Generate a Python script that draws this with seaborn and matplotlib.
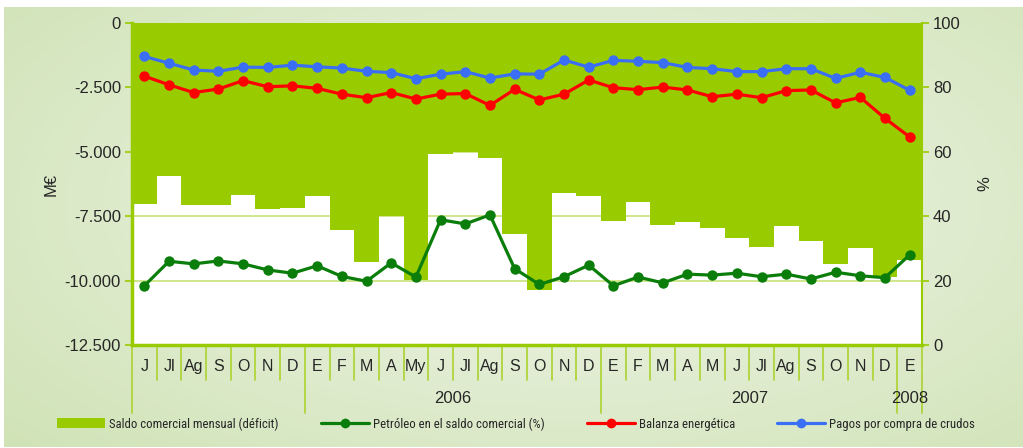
import numpy as np
import matplotlib
matplotlib.use("Agg")
import matplotlib.pyplot as plt
import matplotlib.transforms as mtransforms
from matplotlib import font_manager
from matplotlib.colors import LinearSegmentedColormap
from matplotlib.lines import Line2D
from matplotlib.patches import Patch
from matplotlib.ticker import FuncFormatter
import seaborn as sns


OUTPUT_PATH = "out.png"

# Month labels (jun 2005 - ene 2008)
MONTHS = [
    "J", "Jl", "Ag", "S", "O", "N", "D",
    "E", "F", "M", "A", "My", "J", "Jl", "Ag", "S", "O", "N", "D",
    "E", "F", "M", "A", "M", "J", "Jl", "Ag", "S", "O", "N", "D",
    "E",
]

YEARS = ["2006", "2007", "2008"]

# Saldo comercial mensual (deficit), M€
SALDO = [
    -7030, -5940, -7060, -7060, -6680, -7220, -7180,
    -6720, -8040, -9280, -7490, -9980, -5090, -5010, -5240, -8190, -10360, -6600, -6720,
    -7690, -6950, -7840, -7730, -7960, -8350, -8700, -7880, -8460, -9360, -8730, -9860,
    -9200,
]

# Petróleo en el saldo comercial (%)
PETROLEO = [
    18.4, 26.0, 25.2, 26.1, 25.2, 23.3, 22.3,
    24.6, 21.3, 19.8, 25.5, 21.1, 38.9, 37.6, 40.4, 23.7, 18.8, 21.2, 24.8,
    18.4, 21.1, 19.3, 22.0, 21.7, 22.3, 21.2, 22.0, 20.5, 22.6, 21.5, 20.9,
    28.0,
]

# Balanza energética (%)
BALANZA = [
    83.5, 80.8, 78.4, 79.5, 82.1, 80.2, 80.5,
    79.7, 77.9, 76.8, 78.4, 76.4, 77.9, 78.1, 74.4, 79.4, 76.1, 77.9, 82.3,
    79.9, 79.3, 80.1, 79.2, 77.1, 77.9, 76.8, 79.0, 79.2, 75.2, 76.9, 70.4,
    64.6,
]

# Pagos por compra de crudos (%)
CRUDOS = [
    89.6, 87.5, 85.4, 85.0, 86.3, 86.2, 86.9,
    86.4, 86.0, 85.0, 84.6, 82.7, 84.1, 84.9, 82.9, 84.2, 84.1, 88.5, 86.3,
    88.4, 88.1, 87.7, 86.2, 85.8, 84.9, 84.9, 85.8, 85.8, 82.8, 84.7, 83.1,
    79.1,
]

LEGEND_LABELS = [
    "Saldo comercial mensual (déficit)",
    "Petróleo en el saldo comercial (%)",
    "Balanza energética",
    "Pagos por compra de crudos",
]


GREEN = "#99cc00"
LINE_GREEN = "#0a7d0a"
RED = "#ff0000"
BLUE = "#3a6ef5"
SEP = "#b0d43c"
LABEL_FONT = ["Liberation Sans", "DejaVu Sans"]


def thousands(v, pos):
    return f"{v:,.0f}".replace(",", ".")


def narrow_font():
    # look for a condensed face, the legend uses a narrow typeface
    preferred = ["Liberation Sans Narrow", "Roboto Condensed", "Open Sans Condensed",
                 "Noto Sans Condensed", "DejaVu Sans"]
    found = []
    for f in font_manager.fontManager.ttflist:
        is_narrow = ("ondensed" in f.name or "Narrow" in f.name
                     or f.stretch in ("condensed", "semi-condensed", "extra-condensed")
                     or "Condensed" in f.fname or "Narrow" in f.fname)
        if is_narrow and f.style == "normal" and f.weight in (400, "normal", "regular"):
            found.append(f)
    for name in preferred:
        for f in found:
            if f.name == name:
                return font_manager.FontProperties(fname=f.fname)
    if found:
        return font_manager.FontProperties(fname=found[0].fname)
    return font_manager.FontProperties(family=LABEL_FONT)


def plot_saldo_comercial():

    sns.set_style("white")
    plt.rcParams["font.family"] = LABEL_FONT

    fig = plt.figure(figsize=(10.23, 4.48), dpi=100, facecolor="white")

    # Background gradient panel
    bg = fig.add_axes([4 / 1023, 1 / 448, 1019 / 1023, 440 / 448], zorder=-10)
    yy, xx = np.mgrid[0:1:200j, 0:1:400j]
    dist = np.sqrt(((xx - 0.55) / 0.8) ** 2 + ((yy - 0.55) / 0.9) ** 2)
    cmap = LinearSegmentedColormap.from_list("bg", ["#f2f7ec", "#e0ecd0", "#d0e3b6"])
    bg.imshow(dist, cmap=cmap, aspect="auto", extent=[0, 1, 0, 1], origin="lower")
    bg.set_axis_off()

    ax = fig.add_axes([132 / 1023, 103 / 448, 790 / 1023, 322 / 448])
    ax.set_facecolor("white")

    pos = np.arange(len(MONTHS))

    sns.barplot(
        x=pos,
        y=SALDO,
        native_scale=True,
        width=1.0,
        color=GREEN,
        saturation=1,
        linewidth=0,
        errorbar=None,
        ax=ax,
        zorder=2,
    )

    ax.set_xlim(-0.5, len(MONTHS) - 0.5)
    ax.set_ylim(-12500, 0)
    ax.set_yticks(np.arange(-12500, 1, 2500))
    ax.yaxis.set_major_formatter(FuncFormatter(thousands))
    ax.yaxis.grid(True, color="#c8e27a", linewidth=1.2)
    ax.set_axisbelow(True)

    ax.set_xticks(pos)
    ax.set_xticklabels(MONTHS, fontsize=11.5)
    ax.tick_params(axis="x", length=0, pad=10)
    ax.tick_params(axis="y", length=5, width=1.2, color=GREEN, labelsize=12, pad=3,
                   left=True)

    ax.set_ylabel("M€", fontsize=12)
    ax.yaxis.set_label_coords(-0.093, 0.5)

    for side in ["left", "bottom"]:
        ax.spines[side].set_color(GREEN)
        ax.spines[side].set_linewidth(2.5)
    ax.spines["top"].set_visible(False)
    ax.spines["right"].set_visible(False)

    # Right axis with the percentage series
    ax2 = ax.twinx()
    for values, color in [(CRUDOS, BLUE), (BALANZA, RED), (PETROLEO, LINE_GREEN)]:
        sns.lineplot(
            x=pos,
            y=values,
            color=color,
            linewidth=2.3,
            marker="o",
            markersize=7.5,
            markeredgewidth=0,
            ax=ax2,
            legend=False,
        )
    ax2.set_ylim(0, 100)
    ax2.set_yticks(np.arange(0, 101, 20))
    ax2.tick_params(axis="y", length=5, width=1.2, color=GREEN, labelsize=12, pad=3,
                    right=True)
    ax2.set_ylabel("%", fontsize=12)
    ax2.yaxis.set_label_coords(1.07, 0.5)
    ax2.spines["right"].set_color(GREEN)
    ax2.spines["right"].set_linewidth(1.5)
    for side in ["left", "top", "bottom"]:
        ax2.spines[side].set_visible(False)

    # Category separators and year groups
    trans = mtransforms.blended_transform_factory(ax.transData, ax.transAxes)
    long_edges = [-0.5, 6.5, 18.5, 30.5, 31.5]
    for edge in np.arange(-0.5, len(MONTHS), 1.0):
        bottom = -0.21 if edge in long_edges else -0.108
        ax.plot([edge, edge], [0, bottom], transform=trans, color=SEP,
                linewidth=1.3, clip_on=False, zorder=1)

    year_centers = [(6.5 + 18.5) / 2, (18.5 + 30.5) / 2, 31.0]
    for label, xc in zip(YEARS, year_centers):
        ax.text(xc, -0.165, label, transform=trans, ha="center", va="center",
                fontsize=12)

    # Legend: fit the narrow font so the first label is ~169 px wide
    prop = narrow_font()
    prop.set_size(10)
    probe = fig.text(0, 0, LEGEND_LABELS[0], fontproperties=prop)
    width = probe.get_window_extent(renderer=fig.canvas.get_renderer()).width
    probe.remove()
    size = min(12.5, 10 * 169 / width)
    prop.set_size(size)
    size_px = size * 100 / 72

    handles = [
        Patch(facecolor=GREEN, edgecolor="none"),
        Line2D([], [], color=LINE_GREEN, marker="o", linewidth=2.3, markersize=7,
               markeredgewidth=0),
        Line2D([], [], color=RED, marker="o", linewidth=2.3, markersize=7,
               markeredgewidth=0),
        Line2D([], [], color=BLUE, marker="o", linewidth=2.3, markersize=7,
               markeredgewidth=0),
    ]
    fig.legend(
        handles,
        LEGEND_LABELS,
        loc="center",
        bbox_to_anchor=(516 / 1023, 1 - 424 / 448),
        ncol=4,
        frameon=False,
        handlelength=48 / size_px,
        handleheight=11 / size_px,
        handletextpad=4 / size_px,
        columnspacing=42 / size_px,
        prop=prop,
    )

    plt.savefig(OUTPUT_PATH, dpi=100, facecolor="white")


if __name__ == "__main__":

    plot_saldo_comercial()
